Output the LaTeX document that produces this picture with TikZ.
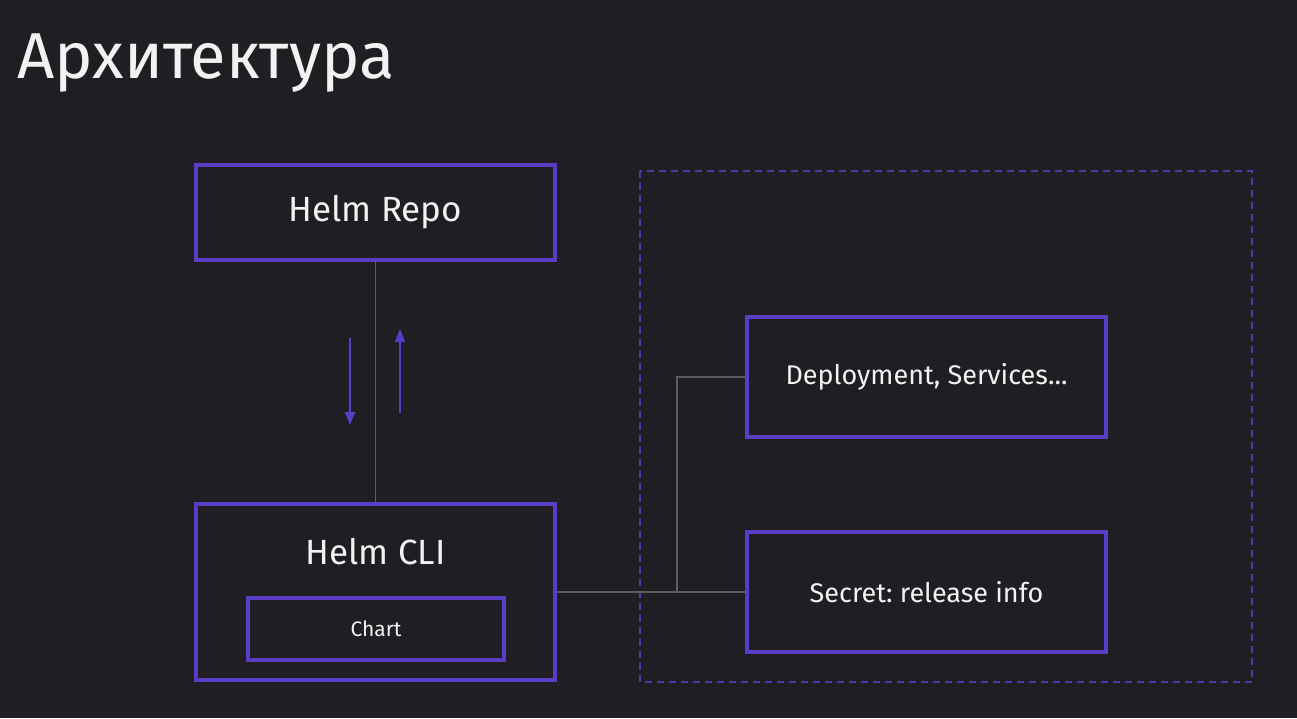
\documentclass[tikz,border=0pt]{standalone}
\usepackage{fontspec}
\setmainfont{Fira Sans}
\frenchspacing
\usetikzlibrary{arrows.meta}
\definecolor{bg}{HTML}{1F1E23}
\definecolor{purp}{HTML}{5B3CC4}
\definecolor{dpurp}{HTML}{4B3AA8}
\definecolor{gline}{HTML}{5C5C60}
\definecolor{txt}{HTML}{F2F2F2}
\tikzset{
  box/.style={draw=purp, line width=4pt, fill=bg, text=txt, inner sep=0pt},
  conn/.style={draw=gline, line width=1.5pt},
  flow/.style={draw=purp, line width=2pt, -{Triangle[width=10pt,length=13pt]}},
  group/.style={draw=dpurp, line width=1.4pt, dash pattern=on 7pt off 5pt},
}
\begin{document}
\begin{tikzpicture}[x=1pt,y=-1pt]
\fill[bg] (0,0) rectangle (1297,718);
\useasboundingbox (0,0) rectangle (1297,718);

\node[anchor=base west, text=txt, font=\fontsize{65}{72}\selectfont, inner sep=0pt] (title) at (17,78) {Архитектура};

\draw[group] (640,171) rectangle (1252,682);

\node[box, minimum width=359pt, minimum height=95pt, font=\fontsize{35}{40}\selectfont] (repo) at (375.5,212.5) {Helm Repo};
\node[box, minimum width=359pt, minimum height=176pt] (cli) at (375.5,592) {};
\node[text=txt, font=\fontsize{35}{40}\selectfont, inner sep=0pt] (clilabel) at (375.5,552) {Helm CLI};
\node[box, minimum width=256pt, minimum height=62pt, font=\fontsize{21}{26}\selectfont] (chart) at (376,629) {Chart};
\node[box, minimum width=359pt, minimum height=120pt, font=\fontsize{27}{32}\selectfont] (deploy) at (926.5,377) {Deployment, Services...};
\node[box, minimum width=359pt, minimum height=120pt, font=\fontsize{27}{32}\selectfont] (secret) at (926.5,592) {Secret: release info};

\coordinate (branch) at (677,592);
\draw[conn] (repo.south) -- (cli.north);
\draw[conn] (cli.east) -- (secret.west);
\draw[conn] (branch) |- (deploy.west);

\coordinate (d1) at (350,338);
\coordinate (d2) at (350,425);
\coordinate (u1) at (400,413);
\coordinate (u2) at (400,329);
\draw[flow] (d1) -- (d2);
\draw[flow] (u1) -- (u2);
\end{tikzpicture}
\end{document}
